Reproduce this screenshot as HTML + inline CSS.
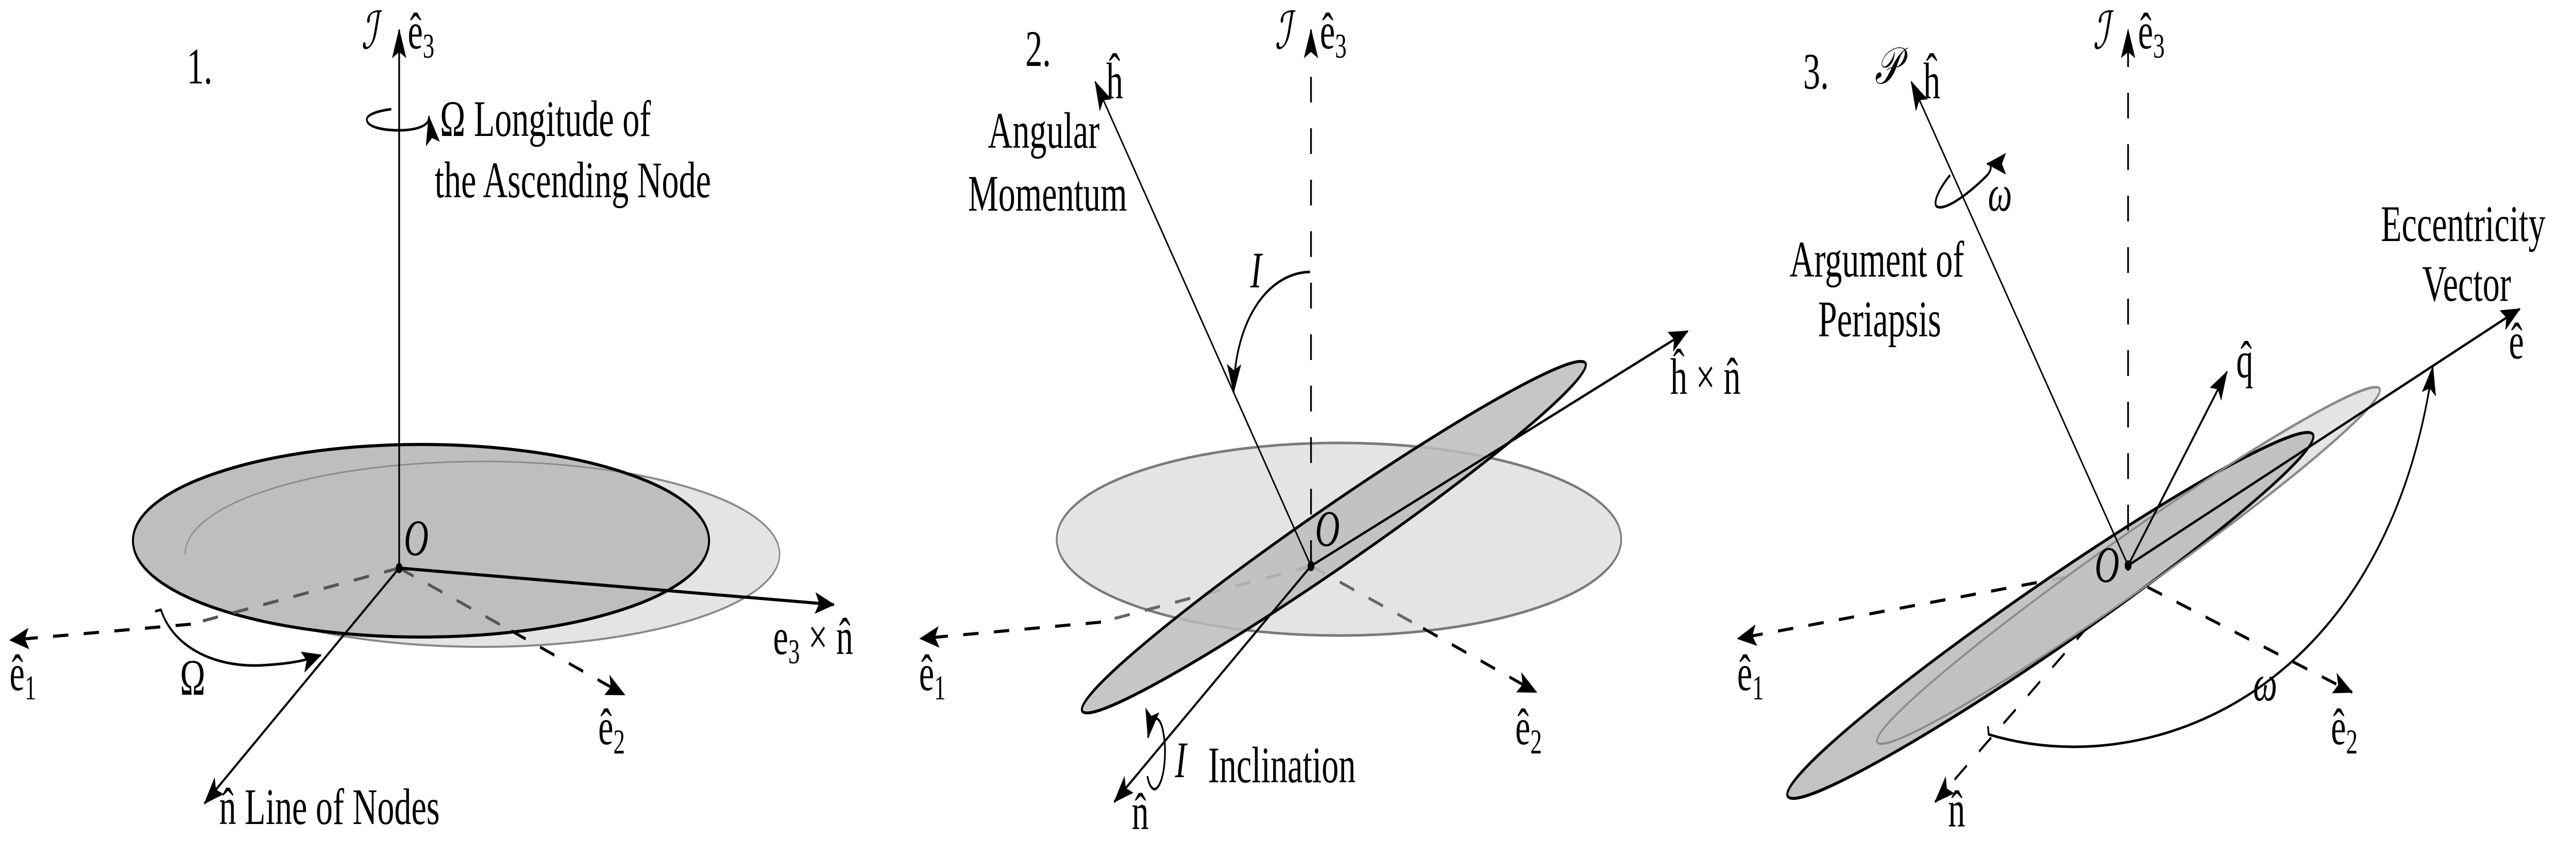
<!DOCTYPE html>
<html><head><meta charset="utf-8"><style>
html,body{margin:0;padding:0;background:#fff;width:100%;height:100%;overflow:hidden;}
svg{display:block;width:100vw;height:100vh;}
text{font-family:"Liberation Serif",serif;font-size:100px;fill:#000;}
.it{font-style:italic;}
.sub{font-size:68px;}
</style></head><body>
<svg viewBox="0 0 7557 1666" preserveAspectRatio="none" xmlns="http://www.w3.org/2000/svg">
<defs>
<marker id="ah" markerUnits="userSpaceOnUse" markerWidth="60" markerHeight="50" viewBox="0 0 60 50" refX="55" refY="25" orient="auto">
<path d="M0,4 L58,25 L0,46 L12,25 Z" fill="#000"/>
</marker>
</defs>

<!-- PANEL 1 -->
<g>
<ellipse cx="1415" cy="1076" rx="872" ry="180" fill="#e4e4e4" stroke="#888" stroke-width="4"/>
<ellipse cx="1235" cy="1050" rx="845" ry="187" fill="#bebebe" stroke="none"/>
<path d="M 543 1076 A 872 180 0 0 1 2287 1076" fill="none" stroke="#8a8a8a" stroke-width="3"/>
<ellipse cx="1235" cy="1050" rx="845" ry="187" fill="none" stroke="#000" stroke-width="6"/>
<line x1="1171" y1="1103" x2="560" y2="1212" stroke="#555" stroke-width="6" stroke-dasharray="45 45"/>
<line x1="560" y1="1212" x2="30" y2="1243" stroke="#000" stroke-width="6" stroke-dasharray="45 45" marker-end="url(#ah)"/>
<line x1="1171" y1="1103" x2="1500" y2="1225" stroke="#555" stroke-width="6" stroke-dasharray="45 45"/>
<line x1="1500" y1="1225" x2="1832" y2="1349" stroke="#000" stroke-width="6" stroke-dasharray="45 45" marker-end="url(#ah)"/>
<line x1="1171" y1="1103" x2="1171" y2="58" stroke="#000" stroke-width="5" marker-end="url(#ah)"/>
<line x1="1171" y1="1103" x2="2446" y2="1174" stroke="#000" stroke-width="6" marker-end="url(#ah)"/>
<line x1="1171" y1="1103" x2="600" y2="1560" stroke="#000" stroke-width="5" marker-end="url(#ah)"/>
<circle cx="1171" cy="1103" r="10" fill="#000"/>
<path d="M 455 1187 L 472 1184 C 510 1260 640 1300 788 1291 C 860 1288 910 1280 941 1272" fill="none" stroke="#000" stroke-width="5" marker-end="url(#ah)"/>
<path d="M 1148 212 C 1100 216 1076 224 1076 232 C 1076 246 1120 253 1170 253 C 1222 253 1262 244 1258 226" fill="none" stroke="#000" stroke-width="5" marker-end="url(#ah)"/>
<text x="548" y="162">1.</text>
<text class="it" x="1060" y="94">ℐ</text>
<text x="1196" y="94">ê<tspan class="sub" dy="18">3</tspan></text>
<text x="1291" y="264">Ω  Longitude of</text>
<text x="1275" y="383">the Ascending Node</text>
<text class="it" x="1185" y="1078">O</text>
<text x="2268" y="1270">e<tspan class="sub" dy="18">3</tspan><tspan dy="-18"> × n̂</tspan></text>
<text x="28" y="1340">ê<tspan class="sub" dy="18">1</tspan></text>
<text x="1755" y="1445">ê<tspan class="sub" dy="18">2</tspan></text>
<text x="528" y="1349">Ω</text>
<text x="643" y="1600">n̂  Line of Nodes</text>
</g>

<!-- PANEL 2 -->
<g>
<ellipse cx="3928" cy="1047" rx="828" ry="187" fill="#e4e4e4" stroke="#7a7a7a" stroke-width="5"/>
<line x1="3846" y1="1099" x2="3230" y2="1208" stroke="#666" stroke-width="6" stroke-dasharray="45 45"/>
<line x1="3230" y1="1208" x2="2700" y2="1240" stroke="#000" stroke-width="6" stroke-dasharray="45 45" marker-end="url(#ah)"/>
<line x1="3846" y1="1099" x2="4175" y2="1220" stroke="#666" stroke-width="6" stroke-dasharray="45 45"/>
<line x1="4175" y1="1220" x2="4507" y2="1344" stroke="#000" stroke-width="6" stroke-dasharray="45 45" marker-end="url(#ah)"/>
<ellipse cx="3913" cy="1043" rx="812" ry="62" transform="rotate(-24.5 3913 1043)" fill="#bcbcbc" fill-opacity="0.85" stroke="#000" stroke-width="6"/>
<line x1="3846" y1="1099" x2="3846" y2="58" stroke="#000" stroke-width="5" stroke-dasharray="50 50" marker-end="url(#ah)"/>
<line x1="3846" y1="1099" x2="3213" y2="159" stroke="#000" stroke-width="4" marker-end="url(#ah)"/>
<line x1="3846" y1="1099" x2="4951" y2="643" stroke="#000" stroke-width="5" marker-end="url(#ah)"/>
<line x1="3846" y1="1099" x2="3269" y2="1557" stroke="#000" stroke-width="5" marker-end="url(#ah)"/>
<circle cx="3846" cy="1099" r="10" fill="#000"/>
<path d="M 3843 528 C 3720 530 3622 620 3619 762" fill="none" stroke="#000" stroke-width="5" marker-end="url(#ah)"/>
<path d="M 3366 1507 C 3372 1530 3385 1535 3392 1531 C 3415 1520 3425 1460 3412 1420 C 3404 1392 3388 1390 3375 1402 L 3368 1432" fill="none" stroke="#000" stroke-width="5" marker-end="url(#ah)"/>
<text x="3008" y="128">2.</text>
<text class="it" x="3740" y="94">ℐ</text>
<text x="3872" y="94">ê<tspan class="sub" dy="18">3</tspan></text>
<text x="3245" y="191">ĥ</text>
<text x="3062" y="287" text-anchor="middle">Angular</text>
<text x="3073" y="409" text-anchor="middle">Momentum</text>
<text class="it" x="3668" y="558">I</text>
<text class="it" x="3858" y="1060">O</text>
<text x="4900" y="765">ĥ × n̂</text>
<text x="2696" y="1340">ê<tspan class="sub" dy="18">1</tspan></text>
<text x="4445" y="1445">ê<tspan class="sub" dy="18">2</tspan></text>
<text x="3320" y="1610">n̂</text>
<text class="it" x="3447" y="1509">I</text>
<text x="3544" y="1519">Inclination</text>
</g>

<!-- PANEL 3 -->
<g>
<line x1="6243" y1="1098" x2="5098" y2="1240" stroke="#000" stroke-width="6" stroke-dasharray="45 45" marker-end="url(#ah)"/>
<line x1="6300" y1="1140" x2="6900" y2="1344" stroke="#000" stroke-width="6" stroke-dasharray="45 45" marker-end="url(#ah)"/>
<line x1="6200" y1="1160" x2="5677" y2="1557" stroke="#000" stroke-width="5" stroke-dasharray="45 45" marker-end="url(#ah)"/>
<ellipse cx="6244" cy="1098" rx="813" ry="58" transform="rotate(-24.9 6244 1098)" fill="#e4e4e4" stroke="#7a7a7a" stroke-width="5"/>
<ellipse cx="6015" cy="1195" rx="847" ry="68" transform="rotate(-24.4 6015 1195)" fill="#bcbcbc" fill-opacity="0.9" stroke="#000" stroke-width="6"/>
<ellipse cx="6244" cy="1098" rx="813" ry="58" transform="rotate(-24.9 6244 1098)" fill="none" stroke="#8a8a8a" stroke-width="4"/>
<line x1="6243" y1="1030" x2="6243" y2="58" stroke="#000" stroke-width="5" stroke-dasharray="50 50" marker-end="url(#ah)"/>
<line x1="6243" y1="1098" x2="5607" y2="159" stroke="#000" stroke-width="4" marker-end="url(#ah)"/>
<line x1="6243" y1="1098" x2="6533" y2="722" stroke="#000" stroke-width="5" marker-end="url(#ah)"/>
<line x1="6243" y1="1098" x2="7392" y2="600" stroke="#000" stroke-width="5" marker-end="url(#ah)"/>
<circle cx="6243" cy="1098" r="10" fill="#000"/>
<path d="M 5832 1410 L 5834 1426 C 6300 1520 7000 1350 7137 712" fill="none" stroke="#000" stroke-width="5" marker-end="url(#ah)"/>
<path d="M 5721 340 C 5690 365 5672 390 5680 400 C 5700 412 5770 380 5830 340 C 5845 328 5842 318 5830 318" fill="none" stroke="#000" stroke-width="5" marker-end="url(#ah)"/>
<text x="5290" y="172">3.</text>
<text class="it" x="5500" y="162">𝒫</text>
<text x="5642" y="191">ĥ</text>
<text class="it" x="6140" y="94">ℐ</text>
<text x="6272" y="94">ê<tspan class="sub" dy="18">3</tspan></text>
<text class="it" x="5832" y="409">ω</text>
<text x="5506" y="537" text-anchor="middle">Argument of</text>
<text x="5514" y="653" text-anchor="middle">Periapsis</text>
<text x="7226" y="468" text-anchor="middle">Eccentricity</text>
<text x="7236" y="584" text-anchor="middle">Vector</text>
<text x="7360" y="696">ê</text>
<text x="6560" y="733">q̂</text>
<text class="it" x="6145" y="1130">O</text>
<text class="it" x="6610" y="1360">ω</text>
<text x="5096" y="1340">ê<tspan class="sub" dy="18">1</tspan></text>
<text x="6838" y="1445">ê<tspan class="sub" dy="18">2</tspan></text>
<text x="5715" y="1605">n̂</text>
</g>
</svg>
</body></html>
